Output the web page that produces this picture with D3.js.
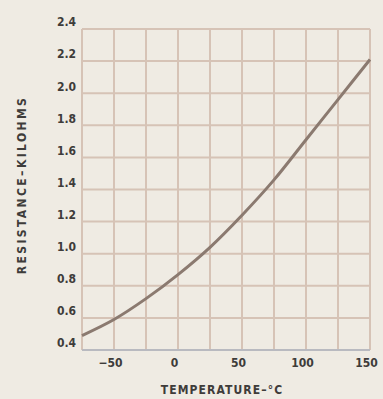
<!DOCTYPE html>
<html>
  <head>
    <title>Resistance vs Temperature</title>
    <script src="https://d3js.org/d3.v7.min.js"></script>
    <style>
      body { margin: 0; background: #efebe3; }
      svg { display: block; }
    </style>
  </head>
  <body>
    <svg width="383" height="399"></svg>

    <script type="text/javascript">
      // data
      var temps = [-75, -50, -25, 0, 25, 50, 75, 100, 125, 150];
      var resist = [0.49, 0.59, 0.72, 0.87, 1.04, 1.24, 1.46, 1.71, 1.96, 2.21];
      var xTicks = [-50, 0, 50, 100, 150];
      var yTicks = [0.4, 0.6, 0.8, 1.0, 1.2, 1.4, 1.6, 1.8, 2.0, 2.2, 2.4];
      var yTickLabels = ["0.4", "0.6", "0.8", "1.0", "1.2", "1.4", "1.6", "1.8", "2.0", "2.2", "2.4"];

      var svg = d3.select("svg");
      var plotL = 82, plotR = 370, plotT = 29, plotB = 350;
      var font = "'DejaVu Sans Condensed', 'DejaVu Sans', sans-serif";

      var x = d3.scaleLinear().domain([-75, 150]).range([plotL, plotR]);
      var y = d3.scaleLinear().domain([0.4, 2.4]).range([plotB, plotT]);

      // grid
      var grid = svg.append("g").attr("stroke", "#d6c3b6").attr("stroke-width", 2);
      grid.selectAll("line.v")
        .data(d3.range(-75, 151, 25))
        .enter()
        .append("line")
        .attr("class", "v")
        .attr("x1", function (d) { return x(d); })
        .attr("x2", function (d) { return x(d); })
        .attr("y1", plotT)
        .attr("y2", plotB);
      grid.selectAll("line.h")
        .data(yTicks)
        .enter()
        .append("line")
        .attr("class", "h")
        .attr("x1", plotL)
        .attr("x2", plotR)
        .attr("y1", function (d) { return y(d); })
        .attr("y2", function (d) { return y(d); });

      // bottom edge is a cooler grey
      svg.append("line")
        .attr("x1", plotL).attr("x2", plotR)
        .attr("y1", plotB).attr("y2", plotB)
        .attr("stroke", "#b9bac0").attr("stroke-width", 2);

      // X axis labels
      var xAxis = svg.append("g")
        .attr("transform", "translate(-4," + plotB + ")")
        .call(d3.axisBottom(x).tickValues(xTicks).tickSize(0).tickPadding(8));
      xAxis.select(".domain").remove();
      xAxis.selectAll("text")
        .attr("fill", "#3e3c3a")
        .style("font-family", font)
        .style("font-weight", "bold")
        .style("font-size", "12px");

      // Y axis labels
      var yAxis = svg.append("g")
        .attr("transform", "translate(" + (plotL - 1) + ",-7)")
        .call(d3.axisLeft(y).tickValues(yTicks)
          .tickFormat(function (d, i) { return yTickLabels[i]; })
          .tickSize(0).tickPadding(5));
      yAxis.select(".domain").remove();
      yAxis.selectAll("text")
        .attr("fill", "#3e3c3a")
        .style("font-family", font)
        .style("font-weight", "bold")
        .style("font-size", "12px");

      // curve
      svg.append("path")
        .datum(temps)
        .attr("fill", "none")
        .attr("stroke", "#8b7a70")
        .attr("stroke-width", 3)
        .attr("d", d3.line()
          .curve(d3.curveCatmullRom)
          .x(function (d) { return x(d); })
          .y(function (d, i) { return y(resist[i]); }));

      // axis titles
      svg.append("text")
        .attr("x", 222)
        .attr("y", 394)
        .attr("text-anchor", "middle")
        .attr("fill", "#3e3c3a")
        .style("font-family", font)
        .style("font-weight", "bold")
        .style("font-size", "12px")
        .style("letter-spacing", "1.1px")
        .text("TEMPERATURE–°C");

      svg.append("text")
        .attr("transform", "translate(26,185) rotate(-90)")
        .attr("text-anchor", "middle")
        .attr("fill", "#3e3c3a")
        .style("font-family", font)
        .style("font-weight", "bold")
        .style("font-size", "12px")
        .style("letter-spacing", "2.4px")
        .text("RESISTANCE–KILOHMS");
    </script>
  </body>
</html>
